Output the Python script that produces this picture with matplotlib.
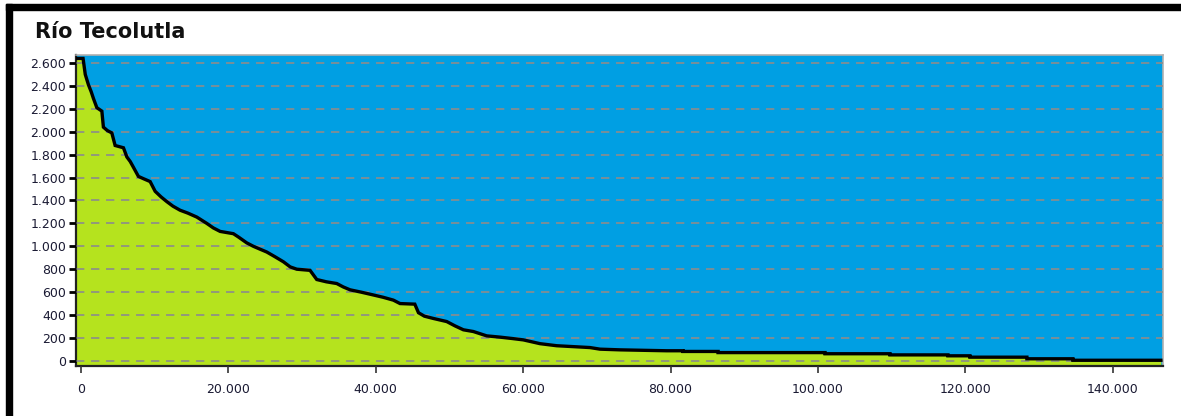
import matplotlib
matplotlib.use('Agg')
import matplotlib.pyplot as plt
from matplotlib.ticker import FuncFormatter
from matplotlib.patches import Rectangle

# curva de duración de caudales - Río Tecolutla
tiempo = [0, 300, 600, 1030, 1400, 1710, 2170, 2850, 3060, 3600, 4200, 4650, 5780,
          6240, 6700, 7130, 7810, 8500, 9400, 10080, 10900, 11660, 12500, 13460,
          14500, 15730, 17080, 17980, 18890, 20690, 21400, 22500, 23400, 24300,
          25220, 26300, 27470, 28400, 29290, 31090, 32000, 33300, 34710, 35600,
          36520, 38000, 39680, 41000, 42390, 43300, 45300, 45800, 46600, 47820, 49630,
          50760, 51890, 53240, 55050, 56860, 58500, 60020, 62280, 64540, 69060,
          70420, 73130, 79460, 81690, 81690, 86440, 86440, 100950, 100950,
          109760, 109760, 117620, 117620, 120600, 120600, 128330, 128330,
          134570, 134570, 146500]
caudal = [2640, 2640, 2500, 2410, 2350, 2290, 2210, 2180, 2040, 2010, 1990, 1880, 1860,
          1780, 1740, 1690, 1610, 1590, 1565, 1480, 1430, 1390, 1350, 1315,
          1290, 1255, 1200, 1160, 1130, 1110, 1080, 1030, 1000, 975,
          950, 910, 865, 820, 800, 790, 710, 690, 675, 645,
          620, 600, 575, 555, 530, 500, 495, 420, 390, 370, 343,
          305, 271, 256, 218, 207, 195, 183, 150, 132, 116,
          102, 96, 88, 88, 82, 82, 72, 72, 62,
          62, 52, 52, 44, 44, 32, 32, 18,
          18, 5, 5]

y_ticks = list(range(0, 2601, 200))
x_ticks = list(range(0, 140001, 20000))

azul = '#009fe3'
verde = '#b5e31e'
x_min, x_max = -650, 146800

fig = plt.figure(figsize=(11.81, 4.16), dpi=100)
ax = fig.add_axes([0.0644, 0.1202, 0.9204, 0.7476])
ax.set_facecolor(azul)

# la curva arranca en el borde izquierdo del eje
x_plot = [x_min] + tiempo[1:]
ax.fill_between(x_plot, -200, caudal, color=verde, linewidth=0, zorder=1)
ax.plot(x_plot, caudal, color='black', linewidth=2.4, zorder=3,
        solid_joinstyle='miter')

ax.set_xlim(x_min, x_max)
ax.set_ylim(-45, 2670)
ax.set_yticks(y_ticks)
ax.set_xticks(x_ticks)

miles = FuncFormatter(lambda v, p: f'{int(v):,}'.replace(',', '.'))
ax.xaxis.set_major_formatter(miles)
ax.yaxis.set_major_formatter(miles)

ax.set_axisbelow(False)
ax.yaxis.grid(True, color='#8c8c8c', linestyle=(0, (5, 4)), linewidth=1.2)
ax.xaxis.grid(False)

ax.tick_params(axis='y', direction='out', length=5, width=2, color='black',
               labelsize=9, labelcolor='#1a1a33', pad=2)
ax.tick_params(axis='x', direction='out', length=5, width=1.2, color='#333333',
               labelsize=9, labelcolor='#1a1a33', pad=7)

for s in ['top', 'right']:
    ax.spines[s].set_color('#b0b0b0')
    ax.spines[s].set_linewidth(1.2)
for s in ['left', 'bottom']:
    ax.spines[s].set_color('#222222')
    ax.spines[s].set_linewidth(1.6)

fig.text(0.0296, 0.909, 'Río Tecolutla', fontsize=15, fontweight='bold',
         color='#111111', ha='left', va='baseline')

# marco negro (izquierda y arriba)
fig.patches.append(Rectangle((6 / 1181, 0), 6 / 1181, 412 / 416, transform=fig.transFigure,
                             color='black', zorder=10))
fig.patches.append(Rectangle((6 / 1181, 406 / 416), 1175 / 1181, 6 / 416,
                             transform=fig.transFigure, color='black', zorder=10))

plt.savefig('out.png', dpi=100)
